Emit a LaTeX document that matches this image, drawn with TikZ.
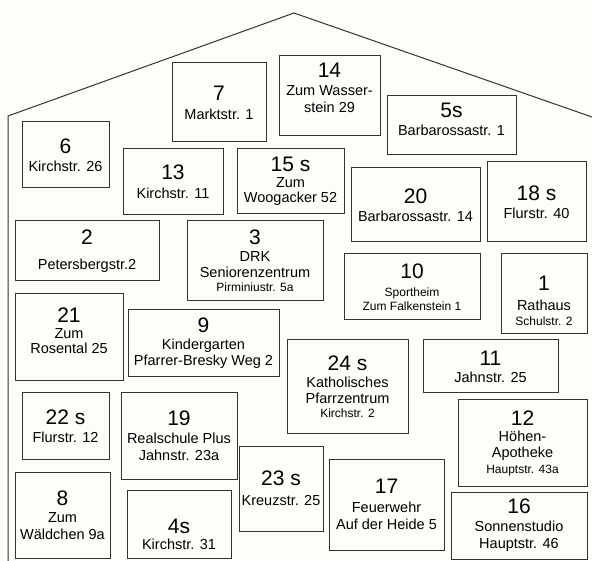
\documentclass[tikz,border=0pt]{standalone}
\usepackage{fontspec}
\setmainfont{Liberation Sans}
\definecolor{bgcol}{HTML}{FDFDFA}
\definecolor{linecol}{HTML}{333333}
\newcommand\bignum[1]{{\fontsize{21}{22}\selectfont #1}}
\newcommand\smtxt[1]{{\fontsize{12}{14}\selectfont #1}}
\newcommand\housebox[7]{%
  \node[box, minimum width={#4-#2}, minimum height={#5-#3}] (#1) at ({(#2+#4)/2},{(#3+#5)/2}) {};
  \node[lbl] (#1t) at ([yshift=#6]#1.center) {#7};}
\tikzset{
  box/.style={draw=linecol, line width=1pt, rectangle, inner sep=0pt, outer sep=0pt},
  lbl/.style={align=center, inner sep=0pt, font=\fontsize{14.5}{17}\selectfont, text=black},
  roof/.style={draw=linecol, line width=1pt}
}
\begin{document}
\begin{tikzpicture}[x=1pt, y=-1pt]
\fill[bgcol] (0,0) rectangle (592,561);
\useasboundingbox (0,0) rectangle (592,561);
\coordinate (wallbase) at (8,561);
\coordinate (eaveL) at (8,116);
\coordinate (peak) at (294,13);
\coordinate (eaveR) at (592,117);
\draw[roof] (wallbase) -- (eaveL) -- (peak) -- (eaveR);

\housebox{b7}{172}{63}{266}{142}{0pt}{\bignum{7}\\[2pt]Marktstr. 1}
\housebox{b14}{279}{56}{380}{136}{8pt}{\bignum{14}\\[1pt]Zum Wasser-\\stein 29}
\housebox{b5s}{387}{96}{516}{155}{6pt}{\bignum{5s}\\[1pt]Barbarossastr. 1}
\housebox{b6}{22}{122}{109}{188}{0pt}{\bignum{6}\\[1pt]Kirchstr. 26}
\housebox{b13}{123}{149}{223}{215}{0pt}{\bignum{13}\\[2pt]Kirchstr. 11}
\housebox{b15s}{237}{149}{344}{214}{0pt}{\bignum{15 s}\\[-1pt]Zum\\[-2pt]Woogacker 52}
\housebox{b20}{351}{168}{480}{242}{0pt}{\bignum{20}\\[1pt]Barbarossastr. 14}
\housebox{b18s}{487}{162}{586}{242}{0pt}{\bignum{18 s}\\[1pt]Flurstr. 40}
\housebox{b2}{15}{221}{159}{281}{0pt}{\bignum{2}\\[8pt]Petersbergstr.2}
\housebox{b3}{187}{221}{323}{301}{0pt}{\bignum{3}\\[0pt]DRK\\[-1pt]Seniorenzentrum\\[-3pt]\smtxt{Pirminiustr. 5a}}
\housebox{b10}{344}{254}{480}{320}{0pt}{\bignum{10}\\[1pt]\smtxt{Sportheim}\\[-3pt]\smtxt{Zum Falkenstein 1}}
\housebox{b1}{501}{254}{587}{334}{-7pt}{\bignum{1}\\[3pt]Rathaus\\[-2pt]\smtxt{Schulstr. 2}}
\housebox{b21}{15}{294}{123}{381}{7pt}{\bignum{21}\\[-1pt]Zum\\[-2pt]Rosental 25}
\housebox{b9}{128}{310}{279}{377}{0pt}{\bignum{9}\\[0pt]Kindergarten\\[-1pt]Pfarrer-Bresky Weg 2}
\housebox{b24s}{287}{340}{408}{433}{0pt}{\bignum{24 s}\\[0pt]Katholisches\\[-1pt]Pfarrzentrum\\[-3pt]\smtxt{Kirchstr. 2}}
\housebox{b11}{423}{340}{558}{393}{0pt}{\bignum{11}\\[0pt]Jahnstr. 25}
\housebox{b22s}{22}{393}{109}{459}{0pt}{\bignum{22 s}\\[1pt]Flurstr. 12}
\housebox{b19}{121}{393}{237}{479}{0pt}{\bignum{19}\\[1pt]Realschule Plus\\[0pt]Jahnstr. 23a}
\housebox{b12}{458}{400}{587}{486}{0pt}{\bignum{12}\\[-1pt]Höhen-\\[-1pt]Apotheke\\[-1pt]\smtxt{Hauptstr. 43a}}
\housebox{b23s}{239}{446}{323}{531}{0pt}{\bignum{23 s}\\[3pt]Kreuzstr. 25}
\housebox{b17}{329}{459}{444}{550}{0pt}{\bignum{17}\\[2pt]Feuerwehr\\[0pt]Auf der Heide 5}
\housebox{b8}{15}{472}{110}{558}{0pt}{\bignum{8}\\[0pt]Zum\\[0pt]Wäldchen 9a}
\housebox{b4s}{127}{490}{231}{558}{-10pt}{\bignum{4s}\\[-1pt]Kirchstr. 31}
\housebox{b16}{451}{492}{587}{559}{0pt}{\bignum{16}\\[1pt]Sonnenstudio\\[0pt]Hauptstr. 46}
\end{tikzpicture}
\end{document}
